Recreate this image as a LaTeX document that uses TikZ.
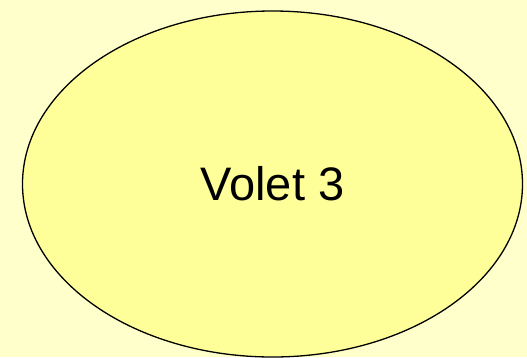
\documentclass[tikz,border=0pt]{standalone}
\usepackage{fontspec}
\setmainfont{Liberation Sans}
\usetikzlibrary{shapes.geometric}
\definecolor{paleyellow}{RGB}{255,255,204}
\definecolor{lightyellow}{RGB}{255,255,153}

\begin{document}
\begin{tikzpicture}[x=1pt,y=-1pt]
        \fill[paleyellow] (0,0) rectangle (527,357);
        \useasboundingbox (0,0) rectangle (527,357);

        \node[draw,ellipse,fill=lightyellow,line width=1.3pt,inner sep=0pt,
              minimum width=500pt,minimum height=346pt,
              font=\fontsize{47}{56}\selectfont] (Volet) at (272.5,184) {Volet 3};
    \end{tikzpicture}
\end{document}
